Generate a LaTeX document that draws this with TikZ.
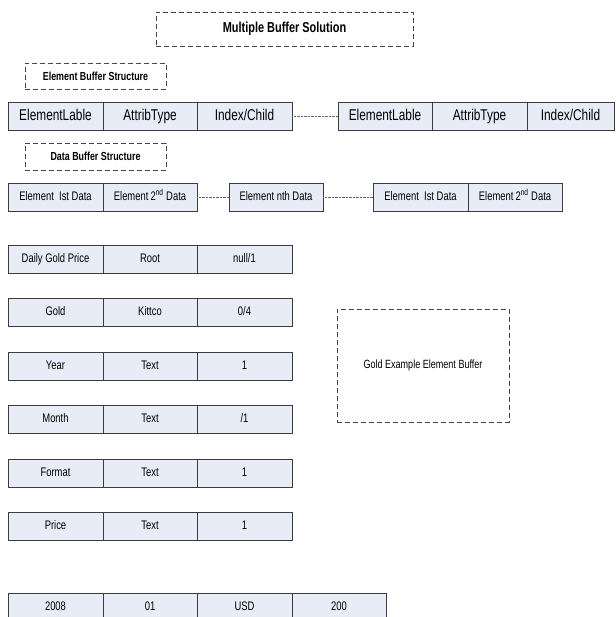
\documentclass[tikz,border=0pt]{standalone}
\usepackage{fontspec}
\setmainfont{Liberation Sans}[FakeStretch=0.76]
\definecolor{cellfill}{RGB}{231,236,246}
\definecolor{cellline}{RGB}{60,60,60}
\definecolor{dashline}{RGB}{70,70,70}
\tikzset{
  cell/.style={draw=cellline, fill=cellfill, line width=0.8pt, inner sep=0pt,
    minimum height=28pt, text height=9pt, text depth=2.6pt,
    font=\fontsize{12.4}{14}\selectfont},
  bigcell/.style={cell, text height=11.4pt, text depth=3.3pt, font=\fontsize{15.6}{17}\selectfont},
  dbox/.style={draw=dashline, dash pattern=on 5pt off 3pt, line width=0.8pt, inner sep=0pt},
  link/.style={draw=gray!80!black, dash pattern=on 0.8pt off 0.6pt, line width=0.6pt}
}
\begin{document}
\begin{tikzpicture}[x=1pt,y=-1pt]
\clip (0,0) rectangle (615,617);
\fill[white] (0,0) rectangle (615,617);
% title and labels
\node[dbox, minimum width=257pt, minimum height=34pt, font=\bfseries\fontsize{14.4}{16}\selectfont] (title) at (284.5,29) {Multiple Buffer Solution};
\node[dbox, minimum width=141pt, minimum height=26pt, font=\bfseries\fontsize{11.7}{13}\selectfont] (ebs) at (95.5,76) {Element Buffer Structure};
\node[dbox, minimum width=141pt, minimum height=27pt, font=\bfseries\fontsize{11.7}{13}\selectfont] (dbs) at (95.5,156.5) {Data Buffer Structure};
% element buffer row
\node[bigcell, minimum width=95pt] (e1) at (55.5,116) {ElementLable};
\node[bigcell, minimum width=94pt] (e2) at (150,116) {AttribType};
\node[bigcell, minimum width=95pt] (e3) at (244.5,116) {Index/Child};
\node[bigcell, minimum width=94pt] (e4) at (385,116) {ElementLable};
\node[bigcell, minimum width=95pt] (e5) at (479.5,116) {AttribType};
\node[bigcell, minimum width=87pt] (e6) at (570.5,116) {Index/Child};
\draw[link] (e3.east) -- (e4.west);
% data buffer row
\node[cell, minimum width=95pt] (d1) at (55.5,197) {Element~~Ist Data};
\node[cell, minimum width=94pt] (d2) at (150,197) {Element\,2\textsuperscript{nd} Data};
\node[cell, minimum width=94pt] (d3) at (276,197) {Element nth Data};
\node[cell, minimum width=95pt] (d4) at (420.5,197) {Element~~Ist Data};
\node[cell, minimum width=94pt] (d5) at (515,197) {Element\,2\textsuperscript{nd} Data};
\draw[link] (d2.east) -- (d3.west);
\draw[link] (d3.east) -- (d4.west);
% gold example rows
\node[cell, minimum width=95pt] (r1a) at (55.5,259) {Daily Gold Price};
\node[cell, minimum width=94pt] (r1b) at (150,259) {Root};
\node[cell, minimum width=95pt] (r1c) at (244.5,259) {null/1};
\node[cell, minimum width=95pt] (r2a) at (55.5,312.5) {Gold};
\node[cell, minimum width=94pt] (r2b) at (150,312.5) {Kittco};
\node[cell, minimum width=95pt] (r2c) at (244.5,312.5) {0/4};
\node[cell, minimum width=95pt] (r3a) at (55.5,366) {Year};
\node[cell, minimum width=94pt] (r3b) at (150,366) {Text};
\node[cell, minimum width=95pt] (r3c) at (244.5,366) {1};
\node[cell, minimum width=95pt] (r4a) at (55.5,419.5) {Month};
\node[cell, minimum width=94pt] (r4b) at (150,419.5) {Text};
\node[cell, minimum width=95pt] (r4c) at (244.5,419.5) {/1};
\node[cell, minimum width=95pt] (r5a) at (55.5,473) {Format};
\node[cell, minimum width=94pt] (r5b) at (150,473) {Text};
\node[cell, minimum width=95pt] (r5c) at (244.5,473) {1};
\node[cell, minimum width=95pt] (r6a) at (55.5,526.5) {Price};
\node[cell, minimum width=94pt] (r6b) at (150,526.5) {Text};
\node[cell, minimum width=95pt] (r6c) at (244.5,526.5) {1};
% data values row
\node[cell, minimum width=95pt] (v1) at (55.5,607) {2008};
\node[cell, minimum width=94pt] (v2) at (150,607) {01};
\node[cell, minimum width=95pt] (v3) at (244.5,607) {USD};
\node[cell, minimum width=94pt] (v4) at (339,607) {200};
% example box
\node[dbox, minimum width=172pt, minimum height=113pt, font=\fontsize{11.9}{13}\selectfont] (gold) at (423,365.5) {Gold Example Element Buffer};
\end{tikzpicture}
\end{document}
